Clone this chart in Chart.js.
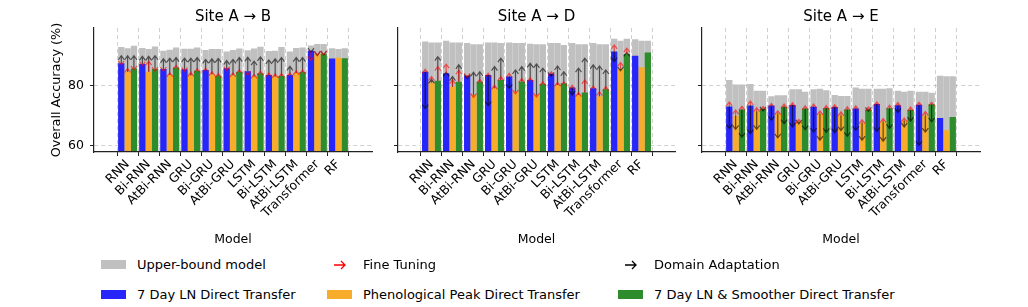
<!DOCTYPE html>
<html>
<head>
<meta charset="utf-8">
<script src="https://cdn.jsdelivr.net/npm/chart.js@4.4.1/dist/chart.umd.min.js"></script>
<style>
  body { margin: 0; background: #fff; }
  #wrap { position: relative; width: 1028px; height: 307px; overflow: hidden; font-family: "DejaVu Sans", sans-serif; }
  canvas { position: absolute; top: 0; }
  .lg { position: absolute; font-size: 13px; line-height: 16px; color: #000; white-space: nowrap; }
  .patch { position: absolute; width: 25px; height: 9px; }
</style>
</head>
<body>
<div id="wrap">
  <canvas id="c1" width="382" height="252" style="left:0px"></canvas>
  <canvas id="c2" width="310" height="252" style="left:375px"></canvas>
  <canvas id="c3" width="310" height="252" style="left:680px"></canvas>
</div>
<script>
const models = ['RNN', 'Bi-RNN', 'AtBi-RNN', 'GRU', 'Bi-GRU', 'AtBi-GRU', 'LSTM', 'Bi-LSTM', 'AtBi-LSTM', 'Transformer', 'RF'];
const seriesNames = ['7 Day LN Direct Transfer', 'Phenological Peak Direct Transfer', '7 Day LN & Smoother Direct Transfer'];
const seriesColors = ['#2626fa', '#f7ac2b', '#2d8d2d'];
const upperColor = '#c0c0c0';
const yTicks = [60, 80];
const siteTitles = ['Site A \u2192 B', 'Site A \u2192 D', 'Site A \u2192 E'];

// rows: [7 Day LN, Phenological Peak, 7 Day LN & Smoother]
// Site A -> B
const ab_upper = [
  [92.7, 92.4, 91.5, 92.1, 91.7, 91.2, 91.6, 91.4, 91.2, 93.2, 92.3],
  [92.3, 92.0, 91.8, 92.1, 92.0, 91.7, 92.2, 91.5, 92.4, 93.7, 92.0],
  [93.1, 92.9, 92.5, 92.5, 92.0, 92.2, 92.8, 92.7, 92.5, 93.7, 92.3]
];
const ab_direct = [
  [87.3, 87.1, 85.4, 85.3, 85.1, 85.7, 84.7, 83.4, 83.4, 91.5, 88.9],
  [84.5, 84.5, 83.4, 83.3, 83.7, 83.3, 82.9, 82.9, 84.1, 90.4, 89.1],
  [85.6, 85.4, 85.9, 84.8, 83.2, 84.5, 84.0, 83.1, 84.4, 90.5, 89.0]
];
const ab_ft = [
  [86.8, 86.5, 84.7, 84.6, 85.7, 84.9, 83.3, 84.1, 84.1, 88.2, null],
  [85.6, 88.0, 84.2, 84.3, 84.5, 84.1, 83.6, 83.8, 84.8, 89.9, null],
  [85.1, 84.7, 86.6, 85.5, 83.9, 85.2, 84.7, 83.9, 85.1, 90.0, null]
];
const ab_da = [
  [89.8, 89.6, 88.8, 89.0, 88.6, 88.2, 89.3, 88.4, 86.3, 91.0, null],
  [89.8, 89.6, 89.0, 89.0, 88.8, 88.6, 88.0, 88.8, 89.2, 89.9, null],
  [89.8, 89.8, 89.2, 89.2, 88.9, 89.2, 89.4, 89.2, 89.2, 90.1, null]
];

// Site A -> D
const ad_upper = [
  [94.5, 94.8, 94.0, 94.2, 94.2, 93.8, 94.0, 94.0, 94.0, 95.4, 95.3],
  [94.2, 94.2, 93.6, 94.2, 94.0, 93.6, 94.0, 93.6, 93.6, 94.8, 94.8],
  [94.2, 94.2, 93.6, 94.0, 94.0, 93.6, 93.4, 93.6, 93.6, 95.4, 94.8]
];
const ad_direct = [
  [84.5, 84.0, 83.2, 83.4, 82.9, 81.8, 83.8, 79.3, 79.0, 91.2, 89.8],
  [80.9, 79.5, 76.8, 79.0, 77.9, 76.8, 80.1, 76.8, 76.4, 85.5, 86.0],
  [81.5, 81.2, 81.2, 81.8, 81.2, 80.4, 80.7, 77.6, 78.7, 90.4, 90.9]
];
const ad_ft = [
  [85.3, 87.0, 82.6, 84.0, 84.0, 82.5, 84.5, 80.0, 79.8, 93.4, null],
  [82.9, 81.8, 76.0, 80.0, 77.2, 76.1, 81.0, 77.6, 77.9, 87.6, null],
  [86.2, 85.0, 82.0, 82.9, 82.3, 81.2, 81.2, 81.8, 79.6, 92.3, null]
];
const ad_da = [
  [72.3, 84.3, 82.3, 73.3, 79.0, 87.3, 83.0, 76.8, 86.8, 87.9, null],
  [82.0, 82.9, 84.3, 86.2, 85.1, 87.1, 86.4, 85.7, 86.4, 84.8, null],
  [89.5, 86.8, 84.5, 89.0, 86.2, 85.7, 84.5, 89.0, 85.1, 90.9, null]
];

// Site A -> E
const ae_upper = [
  [81.8, 80.4, 76.4, 78.7, 78.7, 76.8, 79.3, 78.9, 78.2, 77.9, 83.2],
  [80.3, 78.2, 76.7, 78.7, 78.9, 76.5, 78.9, 78.9, 77.9, 77.9, 83.0],
  [80.3, 78.2, 76.7, 77.9, 78.4, 76.5, 78.9, 79.0, 78.2, 77.5, 83.0]
];
const ae_direct = [
  [73.0, 73.3, 73.3, 73.5, 72.9, 72.8, 72.3, 73.8, 73.4, 73.6, 69.2],
  [69.9, 71.4, 70.7, 67.9, 70.6, 70.1, 67.6, 68.0, 68.3, 70.1, 65.1],
  [72.0, 72.2, 72.9, 72.3, 72.5, 72.0, 72.0, 72.4, 71.9, 73.7, 69.5]
];
const ae_ft = [
  [74.5, 74.8, 74.0, 74.2, 73.8, 73.6, 73.2, 74.5, 74.3, 74.4, null],
  [71.8, 72.6, 71.6, 68.7, 71.5, 71.2, 68.6, 69.0, 69.2, 71.3, null],
  [73.1, 73.0, 73.8, 73.2, 73.3, 72.9, 72.8, 73.4, 72.8, 74.4, null]
];
const ae_da = [
  [65.7, 64.0, 68.4, 66.2, 64.5, 64.3, 65.1, 64.7, 71.0, 60.1, null],
  [65.4, 65.4, 62.6, 67.2, 61.8, 65.0, 61.8, 61.5, 66.2, 64.5, null],
  [62.8, 71.5, 67.3, 65.3, 64.4, 63.1, 71.4, 65.7, 68.1, 67.9, null]
];

const FONT = '"DejaVu Sans", sans-serif';
const gridColor = 'rgba(150,150,150,0.45)';

function drawArrow(ctx, x, y0, y1, color) {
  if (Math.abs(y1 - y0) < 0.5) return;
  const d = y1 > y0 ? 1 : -1;
  ctx.strokeStyle = color;
  ctx.lineWidth = 1.2;
  ctx.beginPath();
  ctx.moveTo(x, y0);
  ctx.lineTo(x, y1);
  ctx.moveTo(x - 3, y1 - d * 4);
  ctx.lineTo(x, y1);
  ctx.lineTo(x + 3, y1 - d * 4);
  ctx.stroke();
}

// arrows from the direct transfer value to fine tuning (red) / domain adaptation (black)
function arrowLayer(direct, ft, da) {
  return {
    id: 'arrowLayer',
    afterDatasetsDraw(chart) {
      const {ctx, chartArea: a, scales: {y}} = chart;
      ctx.save();
      ctx.beginPath();
      ctx.rect(a.left, a.top, a.width, a.height);
      ctx.clip();
      [[da, 'rgba(0,0,0,0.6)'], [ft, 'rgba(255,0,0,0.6)']].forEach(([rows, col]) => {
        rows.forEach((row, k) => {
          const bars = chart.getDatasetMeta(k).data;
          row.forEach((v, i) => {
            if (v === null) return;
            drawArrow(ctx, bars[i].x, y.getPixelForValue(direct[k][i]), y.getPixelForValue(v), col);
          });
        });
      });
      ctx.restore();
    }
  };
}

function makePanel(id, title, upper, direct, ft, da, yWidth, showY) {
  const datasets = [];
  direct.forEach((row, k) => {
    datasets.push({
      label: seriesNames[k],
      data: row.map((v, i) => ({x: i, y: v})),
      backgroundColor: seriesColors[k],
      stack: 's' + k, order: 0,
      barPercentage: 1, categoryPercentage: 0.9
    });
  });
  upper.forEach((row, k) => {
    datasets.push({
      label: 'Upper-bound model',
      data: row.map((v, i) => ({x: i, y: v})),
      backgroundColor: upperColor,
      stack: 's' + k, order: 1,
      barPercentage: 1, categoryPercentage: 0.9
    });
  });

  new Chart(document.getElementById(id), {
    type: 'bar',
    data: {datasets},
    plugins: [arrowLayer(direct, ft, da)],
    options: {
      responsive: false,
      animation: false,
      layout: {padding: {left: 0, right: 10, top: 0, bottom: 0}},
      plugins: {
        legend: {display: false},
        tooltip: {enabled: false},
        title: {
          display: true, text: title, fullSize: false, color: '#000',
          font: {family: FONT, size: 15, weight: 'normal'},
          padding: {top: 8, bottom: 2}
        }
      },
      scales: {
        x: {
          type: 'linear', min: -0.995, max: 10.995, bounds: 'data',
          afterBuildTicks: s => { s.ticks = models.map((m, i) => ({value: i})); },
          ticks: {
            callback: v => models[v], autoSkip: false, minRotation: 45, maxRotation: 45,
            color: '#000', font: {family: FONT, size: 12.5}, padding: 1
          },
          grid: {color: gridColor, lineWidth: 1, tickLength: 4, tickColor: '#222', tickWidth: 1},
          border: {color: '#222', width: 1.2, dash: [4, 3], z: 1},
          title: {
            display: true, text: 'Model', color: '#000',
            font: {family: FONT, size: 12.5}, padding: {top: 0, bottom: 4.5}
          },
          afterFit: s => { s.height = 100; s.paddingLeft = 0; s.paddingRight = 0; }
        },
        y: {
          min: 57.9, max: 99, stacked: false,
          afterBuildTicks: s => { s.ticks = yTicks.map(v => ({value: v})); },
          ticks: {display: showY, color: '#000', font: {family: FONT, size: 12.5}, padding: 6},
          grid: {color: gridColor, lineWidth: 1, tickLength: 4, tickColor: '#222', tickWidth: 1},
          border: {color: '#222', width: 1.2, dash: [4, 3], z: 1},
          title: {
            display: showY, text: 'Overall Accuracy (%)', color: '#000',
            font: {family: FONT, size: 12.8}, padding: {top: 48.5, bottom: 0}
          },
          afterFit: s => { s.width = yWidth; s.paddingTop = 0; s.paddingBottom = 0; }
        }
      }
    }
  });
}

makePanel('c1', siteTitles[0], ab_upper, ab_direct, ab_ft, ab_da, 94, true);
makePanel('c2', siteTitles[1], ad_upper, ad_direct, ad_ft, ad_da, 23, false);
makePanel('c3', siteTitles[2], ae_upper, ae_direct, ae_ft, ae_da, 22, false);

// legend, two rows below the panels
const wrap = document.getElementById('wrap');
const legendCols = [101, 327, 618];
const legendRowY = [265, 295];
const legendItems = [
  [{kind: 'patch', color: upperColor, text: 'Upper-bound model'},
   {kind: 'arrow', color: '#ff0000', text: 'Fine Tuning'},
   {kind: 'arrow', color: '#000000', text: 'Domain Adaptation'}],
  seriesNames.map((n, k) => ({kind: 'patch', color: seriesColors[k], text: n}))
];
legendItems.forEach((row, r) => {
  row.forEach((it, c) => {
    const x = legendCols[c], y = legendRowY[r];
    if (it.kind === 'patch') {
      const p = document.createElement('div');
      p.className = 'patch';
      p.style.left = x + 'px';
      p.style.top = (y - 5) + 'px';
      p.style.background = it.color;
      wrap.appendChild(p);
    } else {
      const ns = 'http://www.w3.org/2000/svg';
      const svg = document.createElementNS(ns, 'svg');
      svg.setAttribute('width', 25); svg.setAttribute('height', 12);
      svg.style.position = 'absolute';
      svg.style.left = x + 'px';
      svg.style.top = (y - 6) + 'px';
      const path = document.createElementNS(ns, 'path');
      path.setAttribute('d', 'M7 6 H18 M14 2 L18 6 L14 10');
      path.setAttribute('stroke', it.color);
      path.setAttribute('stroke-width', '1.3');
      path.setAttribute('fill', 'none');
      svg.appendChild(path);
      wrap.appendChild(svg);
    }
    const t = document.createElement('div');
    t.className = 'lg';
    t.textContent = it.text;
    t.style.left = (x + 36) + 'px';
    t.style.top = (y - 8) + 'px';
    wrap.appendChild(t);
  });
});
</script>
</body>
</html>
